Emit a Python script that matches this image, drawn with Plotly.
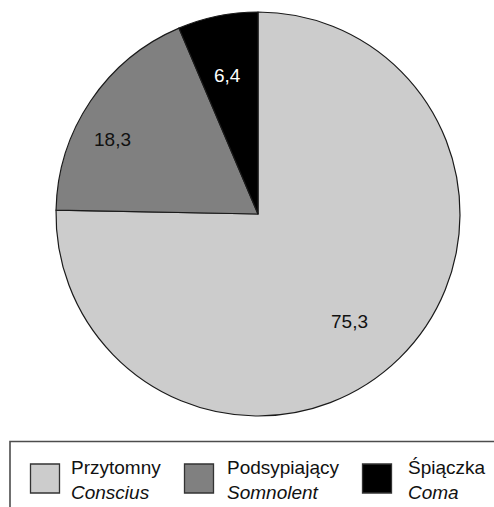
import math
import plotly.graph_objects as go

# Consciousness state on admission (percent of patients)
labels_pl = ["Przytomny", "Podsypiający", "Śpiączka"]
labels_en = ["Conscius", "Somnolent", "Coma"]
shares = [75.3, 18.3, 6.4]
slice_colors = ["#cccccc", "#808080", "#000000"]
label_colors = ["#111111", "#111111", "#ffffff"]

W, H = 494, 507
FONT = "Liberation Sans, Arial, sans-serif"

# pie placement in pixels: centre and radius
CX, CY, R = 258, 214, 202


def px(x):
    return x / W


def py(y):
    return 1 - y / H


fig = go.Figure(
    go.Pie(
        labels=labels_pl,
        values=shares,
        textinfo="none",
        sort=False,
        direction="clockwise",
        rotation=0,
        marker=dict(colors=slice_colors, line=dict(color="#1a1a1a", width=1.2)),
        domain=dict(x=[px(CX - R), px(CX + R)], y=[py(CY + R), py(CY - R)]),
        hoverinfo="label+percent",
        showlegend=False,
    )
)

annotations = []

# value labels: placed along each slice's mid-angle
label_radius = [0.70, 0.81, 0.70]
angle_nudge = [4, -7, -1]
total = sum(shares)
start = 0.0
for i, v in enumerate(shares):
    sweep = 360.0 * v / total
    theta = math.radians(start + sweep / 2 + angle_nudge[i])
    r = R * label_radius[i]
    x = CX + r * math.sin(theta)
    y = CY - r * math.cos(theta)
    annotations.append(dict(
        xref="paper", yref="paper", x=px(x), y=py(y),
        xanchor="center", yanchor="middle", showarrow=False,
        text=f"{v:.1f}".replace(".", ","),
        font=dict(family=FONT, size=19, color=label_colors[i]),
    ))
    start += sweep

shapes = [
    # legend frame (runs off the right and bottom edges)
    dict(type="rect", xref="paper", yref="paper",
         x0=px(10), x1=px(W + 6), y0=py(H + 6), y1=py(441.5),
         line=dict(color="#4d4d4d", width=1.6), fillcolor="rgba(0,0,0,0)"),
]
swatch_x = [30.5, 184.5, 362.5]
text_x = [69, 225, 406]
for i in range(len(labels_pl)):
    shapes.append(dict(
        type="rect", xref="paper", yref="paper",
        x0=px(swatch_x[i]), x1=px(swatch_x[i] + 29), y0=py(493), y1=py(464),
        line=dict(color="#333333", width=1.3), fillcolor=slice_colors[i],
    ))
    annotations.append(dict(
        xref="paper", yref="paper", x=px(text_x[i]), y=py(480),
        xanchor="left", yanchor="middle", align="left", showarrow=False,
        text=f"{labels_pl[i]}<br><i>{labels_en[i]}</i>",
        font=dict(family=FONT, size=19, color="#111111"),
    ))

fig.update_layout(
    width=W, height=H,
    margin=dict(l=0, r=0, t=0, b=0),
    paper_bgcolor="white", plot_bgcolor="white",
    shapes=shapes, annotations=annotations,
)

fig.write_html("out.html")
